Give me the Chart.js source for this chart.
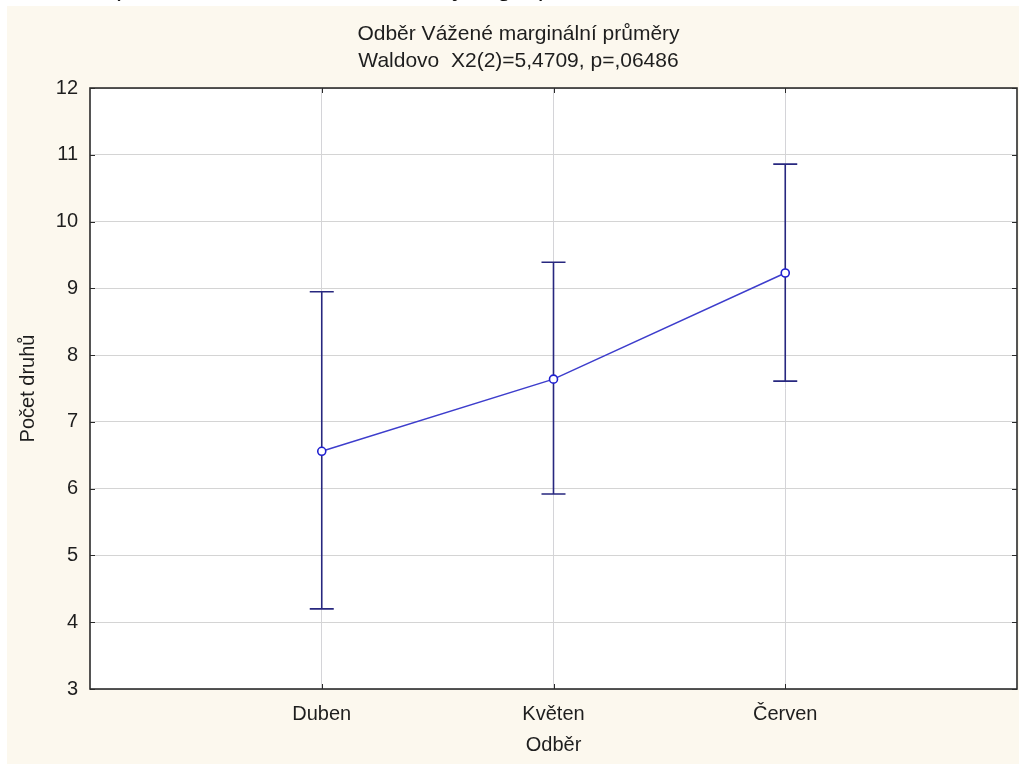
<!DOCTYPE html>
<html>
<head>
<meta charset="utf-8">
<script src="https://cdn.jsdelivr.net/npm/chart.js@4/dist/chart.umd.min.js"></script>
<style>
  html, body { margin: 0; padding: 0; background: #ffffff; }
  #wrap { position: relative; width: 1019px; height: 764px; overflow: hidden; }
  #chart { position: absolute; left: 0; top: 0; }
  .cut { position: absolute; top: -28px; font: 26px "Liberation Sans", Arial, sans-serif; color: #111; line-height: 30px; }
</style>
</head>
<body>
<div id="wrap">
  <canvas id="chart" width="1019" height="764"></canvas>
  <span class="cut" style="left:112px">(</span>
  <span class="cut" style="left:452px">y</span>
  <span class="cut" style="left:497px">g</span>
  <span class="cut" style="left:539px">)</span>
</div>
<script>
// Sampling months and the weighted marginal means with their interval bounds
const categories = ['Duben', 'Květen', 'Červen'];
const means = [6.56, 7.64, 9.23];
const lowerBounds = [4.20, 5.92, 7.61];
const upperBounds = [8.95, 9.39, 10.86];
const yTicks = [3, 4, 5, 6, 7, 8, 9, 10, 11, 12];
const titleLines = ['Odběr Vážené marginální průměry', 'Waldovo  X2(2)=5,4709, p=,06486'];

const FONT = '"Liberation Sans", Arial, sans-serif';
const TEXT = '#1e1e1e';

const points = categories.map((c, i) => ({ x: i + 1, y: means[i] }));

// Panel background, white plot area, interval whiskers, frame and inward ticks
const decor = {
  id: 'decor',
  beforeDraw(chart) {
    const { ctx, chartArea: a } = chart;
    ctx.save();
    ctx.fillStyle = '#fcf8ee';
    ctx.fillRect(7, 6, chart.width - 7, chart.height - 6);
    ctx.fillStyle = '#ffffff';
    ctx.fillRect(a.left, a.top, a.right - a.left, a.bottom - a.top);
    ctx.restore();
  },
  beforeDatasetsDraw(chart) {
    const { ctx, scales: { x, y } } = chart;
    ctx.save();
    ctx.strokeStyle = '#27277f';
    ctx.lineWidth = 1.6;
    categories.forEach((c, i) => {
      const px = x.getPixelForValue(i + 1);
      const lo = y.getPixelForValue(lowerBounds[i]);
      const hi = y.getPixelForValue(upperBounds[i]);
      ctx.beginPath();
      ctx.moveTo(px, lo); ctx.lineTo(px, hi);
      ctx.moveTo(px - 12, lo); ctx.lineTo(px + 12, lo);
      ctx.moveTo(px - 12, hi); ctx.lineTo(px + 12, hi);
      ctx.stroke();
    });
    ctx.restore();
  },
  afterDraw(chart) {
    const { ctx, chartArea: a, scales: { x, y } } = chart;
    ctx.save();
    ctx.strokeStyle = '#2b2b2b';
    ctx.lineWidth = 1.6;
    ctx.strokeRect(a.left, a.top, a.right - a.left, a.bottom - a.top);
    ctx.lineWidth = 1;
    ctx.beginPath();
    yTicks.forEach(v => {
      const py = Math.round(y.getPixelForValue(v)) + 0.5;
      ctx.moveTo(a.left, py); ctx.lineTo(a.left + 5, py);
      ctx.moveTo(a.right, py); ctx.lineTo(a.right - 5, py);
    });
    categories.forEach((c, i) => {
      const px = Math.round(x.getPixelForValue(i + 1)) + 0.5;
      ctx.moveTo(px, a.bottom); ctx.lineTo(px, a.bottom - 5);
      ctx.moveTo(px, a.top); ctx.lineTo(px, a.top + 5);
    });
    ctx.stroke();
    ctx.restore();
  }
};

new Chart(document.getElementById('chart'), {
  type: 'line',
  data: {
    datasets: [{
      data: points,
      borderColor: '#3d3dcc',
      borderWidth: 1.5,
      pointRadius: 4,
      pointHoverRadius: 4,
      pointBorderColor: '#1f1fd0',
      pointBorderWidth: 1.6,
      pointBackgroundColor: '#ffffff',
      tension: 0
    }]
  },
  options: {
    responsive: false,
    animation: false,
    events: [],
    layout: { autoPadding: false, padding: { left: 20, right: 2, top: 0, bottom: 0 } },
    plugins: {
      legend: { display: false },
      tooltip: { enabled: false },
      title: {
        display: true,
        text: titleLines,
        color: TEXT,
        font: { family: FONT, size: 21, weight: 'normal', lineHeight: 1.286 },
        padding: { top: 21, bottom: 13 }
      }
    },
    scales: {
      x: {
        type: 'linear',
        min: 0,
        max: 4,
        afterBuildTicks(scale) {
          scale.ticks = categories.map((c, i) => ({ value: i + 1 }));
        },
        afterFit(scale) {
          scale.height = 75;
          scale.paddingLeft = 0;
          scale.paddingRight = 0;
        },
        grid: { color: '#d4d4d8', lineWidth: 1, drawTicks: false },
        border: { display: false },
        ticks: {
          padding: 13,
          color: TEXT,
          font: { family: FONT, size: 20 },
          callback: v => categories[v - 1]
        },
        title: {
          display: true,
          text: 'Odběr',
          color: TEXT,
          font: { family: FONT, size: 20 },
          padding: { top: 0, bottom: 7 }
        }
      },
      y: {
        min: 3,
        max: 12,
        afterBuildTicks(scale) {
          scale.ticks = yTicks.map(v => ({ value: v }));
        },
        afterFit(scale) { scale.width = 70; },
        grid: { color: '#d4d4d4', lineWidth: 1, drawTicks: false },
        border: { display: false },
        ticks: {
          padding: 12,
          color: TEXT,
          font: { family: FONT, size: 20 }
        },
        title: {
          display: true,
          text: 'Počet druhů',
          color: TEXT,
          font: { family: FONT, size: 20 },
          padding: { top: -4, bottom: 0 }
        }
      }
    }
  },
  plugins: [decor]
});
</script>
</body>
</html>
